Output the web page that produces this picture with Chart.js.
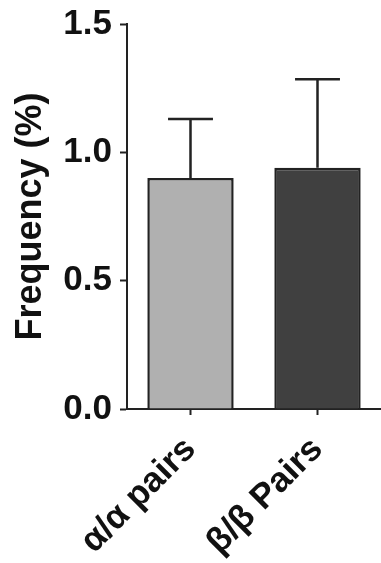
<!DOCTYPE html>
<html>
<head>
<meta charset="utf-8">
<script src="https://cdn.jsdelivr.net/npm/chart.js@4"></script>
<style>
  html, body { margin: 0; padding: 0; background: #fff; }
  #wrap { width: 381px; height: 563px; position: relative; }
</style>
</head>
<body>
<div id="wrap"><canvas id="c"></canvas></div>
<script>
const categories = ['α/α pairs', 'β/β Pairs'];
const frequencies = [0.90, 0.94];
const errors = [0.23, 0.345];
const yTicks = [0, 0.5, 1.0, 1.5];
const barColors = ['#b0b0b0', '#404040'];

const errorBarPlugin = {
  id: 'errorBars',
  afterDatasetsDraw(chart) {
    const ctx = chart.ctx;
    const meta = chart.getDatasetMeta(0);
    const yScale = chart.scales.y;
    ctx.save();
    ctx.strokeStyle = '#222';
    ctx.lineWidth = 2.5;
    meta.data.forEach((bar, i) => {
      const x = bar.x;
      const yBase = bar.y;
      const yTop = yScale.getPixelForValue(frequencies[i] + errors[i]);
      const cap = bar.width * 0.26;
      ctx.beginPath();
      ctx.moveTo(x, yBase);
      ctx.lineTo(x, yTop);
      ctx.moveTo(x - cap, yTop);
      ctx.lineTo(x + cap, yTop);
      ctx.stroke();
    });
    ctx.restore();
  }
};

new Chart(document.getElementById('c'), {
  type: 'bar',
  data: {
    labels: categories,
    datasets: [{
      data: frequencies,
      backgroundColor: barColors,
      borderColor: '#222',
      borderWidth: 2.5,
      barPercentage: 0.68,
      categoryPercentage: 1.0
    }]
  },
  plugins: [errorBarPlugin],
  options: {
    responsive: true,
    maintainAspectRatio: false,
    animation: false,
    layout: { padding: { top: 24, right: 0, bottom: 0, left: 0 } },
    plugins: { legend: { display: false }, tooltip: { enabled: false } },
    scales: {
      x: {
        offset: true,
        border: { display: true, color: '#222', width: 2 },
        grid: { display: true, offset: false, drawOnChartArea: false, drawTicks: true, tickLength: 6, tickWidth: 2, tickColor: '#222' },
        ticks: {
          color: '#111',
          font: { family: 'Liberation Sans, Arial, sans-serif', size: 35, weight: 'bold' },
          minRotation: 45, maxRotation: 45,
          padding: 14
        },
        afterFit(scale) { scale.height = 154; scale.paddingLeft = 0; scale.paddingRight = 0; }
      },
      y: {
        min: 0, max: 1.5,
        afterBuildTicks(scale) { scale.ticks = yTicks.map(v => ({ value: v })); },
        border: { display: true, color: '#222', width: 2 },
        grid: { display: true, drawOnChartArea: false, drawTicks: true, tickLength: 7, tickWidth: 2, tickColor: '#222' },
        ticks: {
          color: '#111',
          font: { family: 'Liberation Sans, Arial, sans-serif', size: 35, weight: 'bold' },
          padding: 8,
          callback: v => Number(v).toFixed(1)
        },
        title: {
          display: true,
          text: 'Frequency (%)',
          color: '#111',
          font: { family: 'Liberation Sans, Arial, sans-serif', size: 36, weight: 'bold' },
          padding: { top: 9, bottom: 0 }
        },
        afterFit(scale) { scale.width = 127; scale.paddingTop = 0; scale.paddingBottom = 0; }
      }
    }
  }
});
</script>
</body>
</html>
